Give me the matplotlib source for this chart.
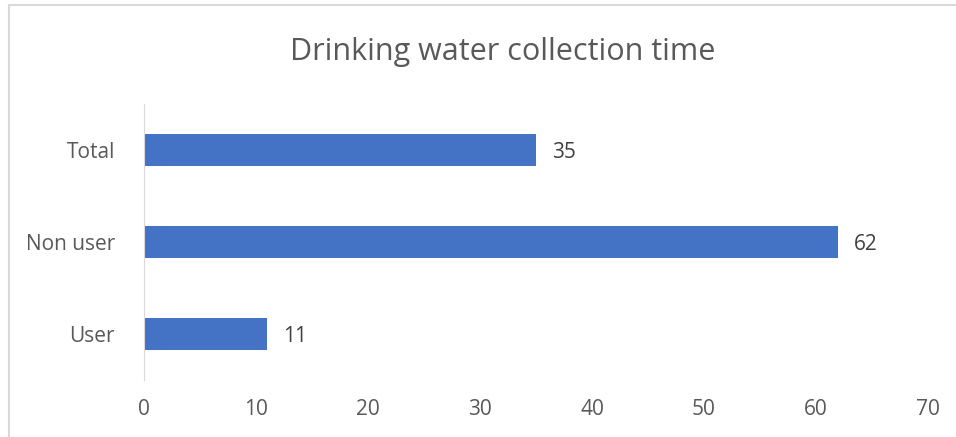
import matplotlib
matplotlib.use("Agg")
import matplotlib.pyplot as plt
from matplotlib.lines import Line2D

# collection time per group
groups = ["User", "Non user", "Total"]
minutes = [11, 62, 35]
xticks = [0, 10, 20, 30, 40, 50, 60, 70]

plt.rcParams['font.family'] = ['Open Sans', 'DejaVu Sans']
grey = '#595959'

fig = plt.figure(figsize=(9.56, 4.37), dpi=100)
ax = fig.add_axes([144/956, 57/437, (928-144)/956, (380-104)/437])

ax.barh(groups, minutes, height=0.35, color='#4472C4')
for i, v in enumerate(minutes):
    ax.text(v + 1.4, i, str(v), va='center_baseline', ha='left', fontsize=15, color='#404040')

ax.set_xlim(0, 70)
ax.set_ylim(-0.5, 2.5)
ax.set_xticks(xticks)
ax.tick_params(axis='both', length=0, labelsize=15, colors=grey)
ax.tick_params(axis='x', pad=14)
ax.tick_params(axis='y', pad=21)
for side in ['top', 'right', 'bottom']:
    ax.spines[side].set_visible(False)
ax.spines['left'].set_color('#D9D9D9')

fig.text(503/956, 1 - 52/437, "Drinking water collection time", ha='center', va='center',
         fontsize=22, color=grey)

# outer chart frame
fig.add_artist(Line2D([9/956, 1], [1 - 5/437, 1 - 5/437], color='#D9D9D9', lw=1.5,
                      transform=fig.transFigure))
fig.add_artist(Line2D([9/956, 9/956], [0, 1 - 5/437], color='#D9D9D9', lw=1.5,
                      transform=fig.transFigure))

fig.savefig("out.png", dpi=100, facecolor='white')
